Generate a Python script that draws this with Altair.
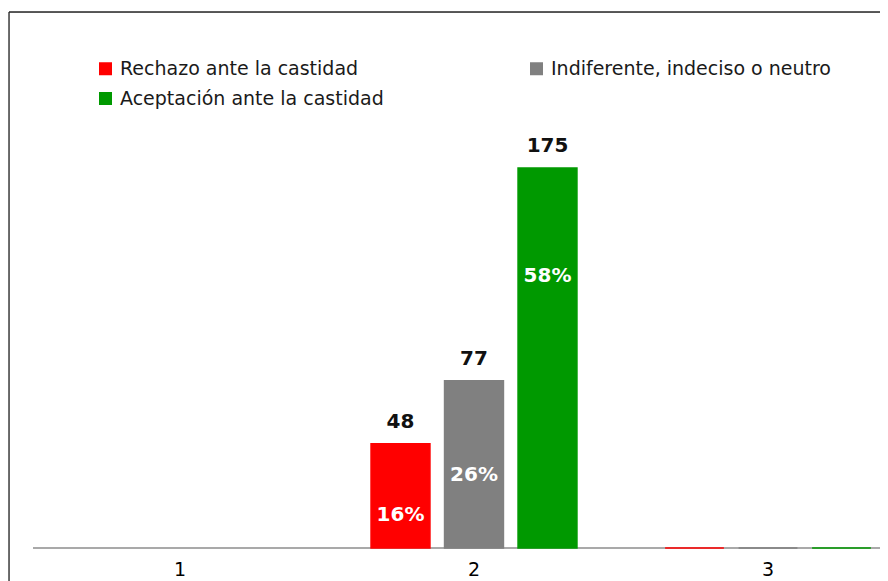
import altair as alt
import pandas as pd

categories = ["1", "2", "3"]
series = ["Rechazo ante la castidad", "Indiferente, indeciso o neutro", "Aceptación ante la castidad"]
colors = ["#FF0000", "#808080", "#009900"]

rechazo = [None, 48, 0]
indiferente = [None, 77, 0]
aceptacion = [None, 175, 0]

rechazo_pct = [None, "16%", None]
indiferente_pct = [None, "26%", None]
aceptacion_pct = [None, "58%", None]

# height (in data units) where the percentage labels sit inside the bars
rechazo_pct_at = [None, 15.4, None]
indiferente_pct_at = [None, 33.6, None]
aceptacion_pct_at = [None, 125.3, None]

rows = []
for s, vals, pcts, ats in [
    (series[0], rechazo, rechazo_pct, rechazo_pct_at),
    (series[1], indiferente, indiferente_pct, indiferente_pct_at),
    (series[2], aceptacion, aceptacion_pct, aceptacion_pct_at),
]:
    for c, v, p, a in zip(categories, vals, pcts, ats):
        rows.append({"cat": c, "serie": s, "value": v, "pct": p, "pct_at": a})
df = pd.DataFrame(rows)

W = 871
H = 590

xscale = alt.Scale(domain=categories, range=[24, 906], paddingInner=0, paddingOuter=0)
yscale = alt.Scale(domain=[-24.87, 246.9], zero=False, nice=False)
xoff = alt.XOffset("serie:N", scale=alt.Scale(domain=series, paddingInner=0.2, paddingOuter=0.6))

base = alt.Chart(df).transform_filter("isValid(datum.value)")

x_enc = alt.X(
    "cat:N",
    scale=xscale,
    sort=categories,
    title=None,
    axis=alt.Axis(
        offset=-54, domain=False, ticks=False, labelAngle=0,
        labelFont="DejaVu Sans", labelFontSize=19, labelColor="#000000",
        labelPadding=12,
    ),
)

frame_left = alt.Chart(pd.DataFrame({"k": [0]})).mark_rule(
    color="#262626", strokeWidth=1.3
).encode(x=alt.value(0), y=alt.value(0), y2=alt.value(H))

frame_top = alt.Chart(pd.DataFrame({"k": [0]})).mark_rule(
    color="#262626", strokeWidth=1.3
).encode(y=alt.value(0), x=alt.value(0), x2=alt.value(W))

baseline = alt.Chart(pd.DataFrame({"y": [0]})).mark_rule(
    color="#8c8c8c", strokeWidth=1.5
).encode(
    y=alt.Y("y:Q", scale=yscale, axis=None),
    x=alt.value(24),
    x2=alt.value(W),
)

bars = base.mark_bar(strokeWidth=1.6).encode(
    x=x_enc,
    xOffset=xoff,
    y=alt.Y("value:Q", scale=yscale, axis=None),
    y2=alt.datum(0),
    color=alt.Color(
        "serie:N",
        scale=alt.Scale(domain=series, range=colors),
        legend=alt.Legend(
            title=None, orient="none", legendX=87, legendY=47,
            direction="horizontal", columns=2, columnPadding=143, rowPadding=10,
            symbolType="square", symbolSize=169, symbolStrokeWidth=0,
            labelFont="DejaVu Sans", labelFontSize=19, labelColor="#1a1a1a",
            labelOffset=5, labelLimit=400, padding=0,
        ),
    ),
    stroke=alt.Stroke("serie:N", scale=alt.Scale(domain=series, range=colors), legend=None),
)

value_labels = base.transform_filter("datum.value > 0").mark_text(
    font="DejaVu Sans", fontWeight="bold", fontSize=20, color="#111111",
    baseline="alphabetic", dy=-16,
).encode(
    x=x_enc,
    xOffset=xoff,
    y=alt.Y("value:Q", scale=yscale, axis=None),
    text=alt.Text("value:Q"),
)

pct_labels = base.transform_filter("isValid(datum.pct)").mark_text(
    font="DejaVu Sans", fontWeight="bold", fontSize=20, color="#ffffff",
    baseline="middle",
).encode(
    x=x_enc,
    xOffset=xoff,
    y=alt.Y("pct_at:Q", scale=yscale, axis=None),
    text=alt.Text("pct:N"),
)

chart = alt.layer(frame_left, frame_top, baseline, bars, value_labels, pct_labels).properties(
    width=W,
    height=H,
    autosize=alt.AutoSizeParams(type="none"),
    padding={"left": 1, "top": 4, "right": 0, "bottom": 0},
).configure_view(
    strokeWidth=0
).configure(background="#ffffff")

chart.save("out.html", embed_options={"renderer": "svg", "actions": False})
